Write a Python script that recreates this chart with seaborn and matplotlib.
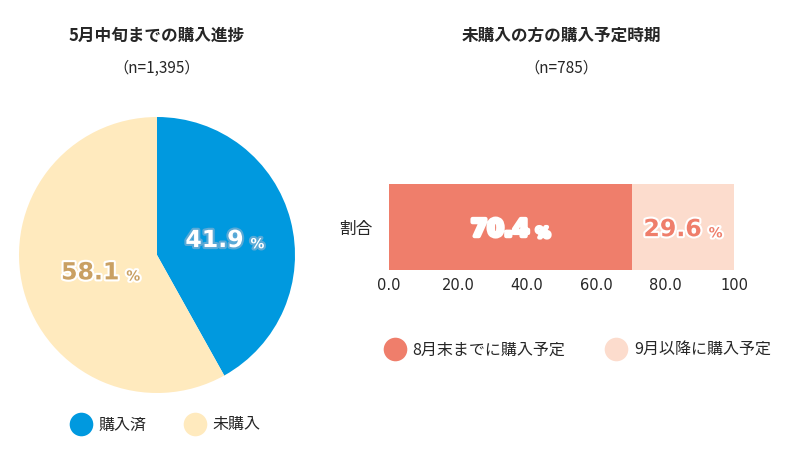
import matplotlib
matplotlib.use("Agg")
import matplotlib.pyplot as plt
import matplotlib.patheffects as pe
from matplotlib.lines import Line2D
import numpy as np
import pandas as pd
import seaborn as sns

sns.set_style("white")
plt.rcParams["font.family"] = ["Noto Sans CJK JP", "DejaVu Sans"]

# ---- data ----
pie_labels = ["購入済", "未購入"]
pie_values = [41.9, 58.1]
pie_title = "5月中旬までの購入進捗"
pie_n = "（n=1,395）"

bar_category = ["割合"]
bar_labels = ["8月末までに購入予定", "9月以降に購入予定"]
bar_values = [70.4, 29.6]
bar_title = "未購入の方の購入予定時期"
bar_n = "（n=785）"
xticks = [0, 20, 40, 60, 80, 100]
xtick_labels = ["0.0", "20.0", "40.0", "60.0", "80.0", "100"]

# ---- colours ----
blue = "#0099DF"
cream = "#FFEABE"
salmon = "#EF7E6B"
pink = "#FCDCCD"
tan = "#C9A063"

W, H = 800, 467
fig = plt.figure(figsize=(W / 100, H / 100), dpi=100)

def px(x, y):
    return x / W, 1 - y / H

# ---- pie ----
axp = fig.add_axes([19 / W, 74 / H, 276 / W, 276 / H])
axp.pie(pie_values, colors=[blue, cream], startangle=90, counterclock=False,
        wedgeprops=dict(linewidth=0))
axp.set_xlim(-1, 1)
axp.set_ylim(-1, 1)

num_font = ["DejaVu Sans"]
start = 90
label_styles = [
    dict(color="white", path_effects=[pe.withStroke(linewidth=3, foreground="#5aa9d6")]),
    dict(color=tan, path_effects=[pe.withStroke(linewidth=3, foreground="white")]),
]
for v, st, r in zip(pie_values, label_styles, [0.43, 0.5]):
    mid = np.deg2rad(start - v * 1.8)
    start -= v * 3.6
    x, y = r * np.cos(mid), r * np.sin(mid)
    axp.text(x, y, f"{v:.1f}", ha="center", va="center", fontsize=17,
             fontweight="bold", family=num_font, **st)
    axp.annotate("%", (x, y), xytext=(31, -3), textcoords="offset points",
                 ha="center", va="center", fontsize=10, fontweight="bold",
                 family=num_font, **st)

fig.text(*px(157, 36), pie_title, ha="center", va="center", fontsize=12,
         fontweight="bold")
fig.text(*px(157, 68), pie_n, ha="center", va="center", fontsize=11)

h_pie = [Line2D([], [], marker="o", linestyle="", markersize=17,
                markerfacecolor=c, markeredgewidth=0) for c in [blue, cream]]
fig.legend(h_pie, pie_labels, loc="center", bbox_to_anchor=px(166, 425),
           ncol=2, frameon=False, fontsize=11.5, handletextpad=0.5,
           columnspacing=2.4, handlelength=1.2)

# ---- stacked bar ----
axb = fig.add_axes([389 / W, 197 / H, 345 / W, 86 / H])
df = pd.DataFrame({"cat": bar_category * 2,
                   "val": [sum(bar_values), bar_values[0]],
                   "part": ["total", "first"]})
sns.barplot(data=df[df.part == "total"], x="val", y="cat", orient="h",
            color=pink, saturation=1, width=0.8, linewidth=0, ax=axb)
sns.barplot(data=df[df.part == "first"], x="val", y="cat", orient="h",
            color=salmon, saturation=1, width=0.8, linewidth=0, ax=axb)
axb.set_ylim(0.4, -0.4)
axb.set_xlim(0, 100)
axb.set_xticks(xticks)
axb.set_xticklabels(xtick_labels, family=num_font, fontsize=10.5)
axb.set_xlabel("")
axb.set_ylabel("")
axb.tick_params(axis="x", length=0, pad=6)
axb.tick_params(axis="y", length=0, pad=12, labelsize=12)
for s in axb.spines.values():
    s.set_visible(False)

bar_styles = [
    dict(color="white", path_effects=[pe.withStroke(linewidth=3, foreground="white")]),
    dict(color=salmon, path_effects=[pe.withStroke(linewidth=3, foreground="white")]),
]
left = 0
for v, st in zip(bar_values, bar_styles):
    xc = left + v / 2 - 3
    left += v
    axb.text(xc, 0.02, f"{v:.1f}", ha="center", va="center", fontsize=17,
             fontweight="bold", family=num_font, **st)
    axb.annotate("%", (xc, 0.02), xytext=(31, -3), textcoords="offset points",
                 ha="center", va="center", fontsize=10, fontweight="bold",
                 family=num_font, **st)

fig.text(*px(561, 36), bar_title, ha="center", va="center", fontsize=12,
         fontweight="bold")
fig.text(*px(561, 68), bar_n, ha="center", va="center", fontsize=11)

h_bar = [Line2D([], [], marker="o", linestyle="", markersize=17,
                markerfacecolor=c, markeredgewidth=0) for c in [salmon, pink]]
fig.legend(h_bar, bar_labels, loc="center", bbox_to_anchor=px(578, 350),
           ncol=2, frameon=False, fontsize=11.5, handletextpad=0.5,
           columnspacing=2.6, handlelength=1.2)

fig.savefig("out.png", dpi=100)
